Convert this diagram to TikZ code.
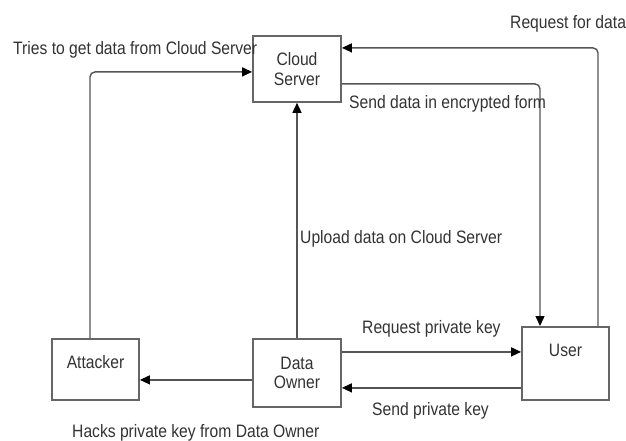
\documentclass[tikz,border=0pt]{standalone}
\usepackage{fontspec}
\setmainfont{Liberation Sans}[FakeStretch=0.87]
\usetikzlibrary{arrows.meta,calc}
\definecolor{boxline}{HTML}{666666}
\definecolor{conline}{HTML}{555555}
\definecolor{txt}{HTML}{333333}
\begin{document}
\begin{tikzpicture}[x=1pt,y=-1pt,
  every node/.style={font=\fontsize{18}{19.5}\selectfont, text=txt},
  entity/.style={draw=boxline, line width=1.8pt, inner sep=0pt, align=center, minimum width=87pt},
  arr/.style={draw=conline, line width=1.4pt, rounded corners=5pt,
    -{Triangle[length=10pt,width=9pt,fill=black,color=black]}},
  lbl/.style={anchor=base west, inner sep=0pt}]
\useasboundingbox (0,0) rectangle (626,440);
\fill[white] (0,0) rectangle (626,440);

\node[entity, minimum height=66pt, minimum width=88pt] (cloud) at (297,35) [anchor=north] {Cloud\\Server};
\node[entity, minimum height=68pt, minimum width=88pt] (owner) at (297,338) [anchor=north] {Data\\Owner};
\node[entity, text height=30pt, text depth=31pt] (att) at (95.5,338) [anchor=north] {Attacker};
\node[entity, text height=30pt, text depth=43pt] (user) at (565.5,326) [anchor=north] {User};

% Attacker -> Cloud
\draw[arr] ([xshift=-5.5pt]att.north) |- ([yshift=-3pt]cloud.west);
% Cloud -> User
\draw[arr] ([yshift=-15pt]cloud.east) -| ([xshift=-25.5pt]user.north);
% User -> Cloud
\draw[arr] ([xshift=32.5pt]user.north) |- ([yshift=21pt]cloud.east);
% Owner -> Cloud
\draw[arr] (owner.north) -- (cloud.south);
% Owner -> User
\draw[arr] ([yshift=21pt]owner.east) -- ([yshift=21pt]owner.east -| user.west);
% User -> Owner
\draw[arr] ([yshift=-15pt]owner.east -| user.west) -- ([yshift=-15pt]owner.east);
% Owner -> Attacker
\draw[arr] ([yshift=-7pt]owner.west) -- ([yshift=-7pt]owner.west -| att.east);

\node[lbl] (l1) at (13,54) {Tries to get data from Cloud Server};
\node[lbl] (l2) at (510,28) {Request for data};
\node[lbl] (l3) at (349,108) {Send data in encrypted form};
\node[lbl] (l4) at (300,243) {Upload data on Cloud Server};
\node[lbl] (l5) at (362,333) {Request private key};
\node[lbl] (l6) at (372,415) {Send private key};
\node[lbl] (l7) at (72,437) {Hacks private key from Data Owner};
\end{tikzpicture}
\end{document}
